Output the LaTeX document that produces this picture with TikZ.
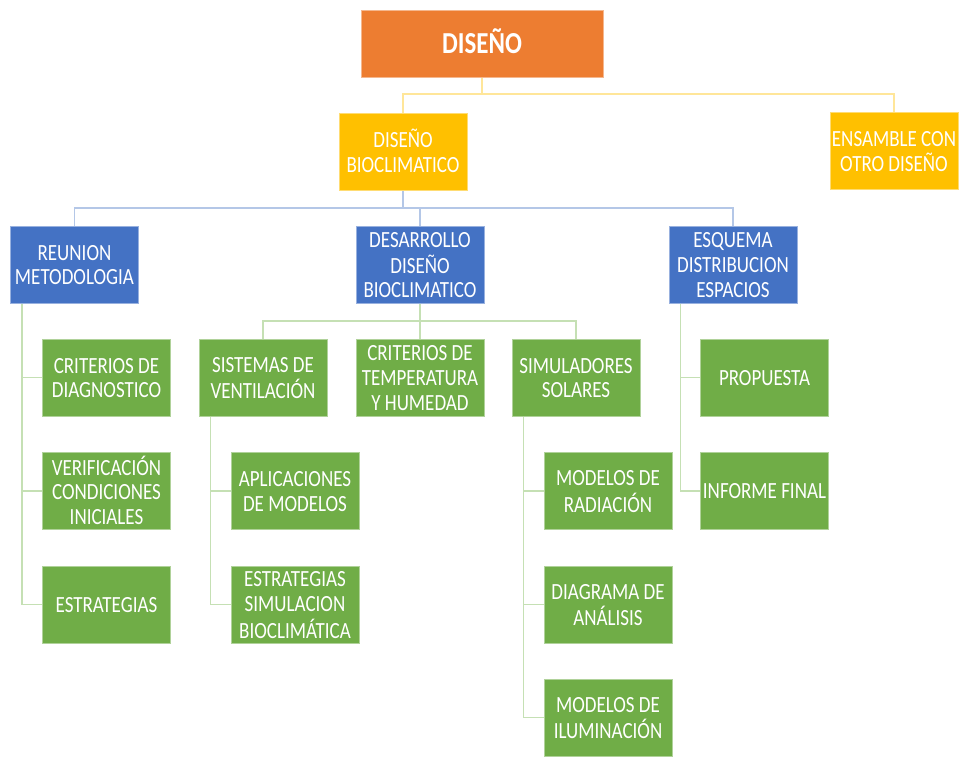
\documentclass[tikz,border=0pt]{standalone}
\usepackage{graphicx}
\usepackage{fontspec}
\setmainfont{Carlito}
\usetikzlibrary{backgrounds}
\definecolor{cOrange}{HTML}{ED7D31}
\definecolor{cGold}{HTML}{FFC000}
\definecolor{cBlue}{HTML}{4472C4}
\definecolor{cGreen}{HTML}{70AD47}
\definecolor{lGold}{HTML}{FFE699}
\definecolor{lBlue}{HTML}{B4C7E7}
\definecolor{lGreen}{HTML}{C5E0B4}
% box captions: centred lines, set in a slightly tall (condensed-looking) face,
% with the reported depth trimmed so the capitals sit optically centred
\newcommand\lbl[1]{\raisebox{0pt}[\height][\dimexpr\depth-6pt\relax]{%
  \scalebox{1}[1.22]{\renewcommand\arraystretch{1}%
  \begin{tabular}{@{}c@{}}#1\end{tabular}}}}
\tikzset{
  card/.style={rectangle, inner sep=0pt, minimum width=128pt, minimum height=77pt,
    text=white, align=center, font=\fontsize{19}{20.3}\selectfont, line width=0.8pt},
  topbox/.style={card, fill=cOrange, draw=cOrange!55!white, minimum width=242pt,
    minimum height=67pt, font=\fontsize{25}{28}\selectfont\bfseries},
  goldbox/.style={card, fill=cGold, draw=cGold!55!white},
  bluebox/.style={card, fill=cBlue, draw=cBlue!55!white},
  greenbox/.style={card, fill=cGreen, draw=cGreen!55!white},
  goldlink/.style={draw=lGold, line width=1.5pt},
  bluelink/.style={draw=lBlue, line width=1.5pt},
  greenlink/.style={draw=lGreen, line width=1.5pt},
}
\begin{document}
\begin{tikzpicture}[x=1pt, y=-1pt]
\useasboundingbox (0,0) rectangle (967,757);

% level 0 and 1
\node[topbox]  (diseno) at (482,43.5) {\lbl{DISEÑO}};
\node[goldbox] (bio)    at (403,151.5) {\lbl{DISEÑO\\BIOCLIMATICO}};
\node[goldbox] (ens)    at (894,151) {\lbl{ENSAMBLE CON\\OTRO DISEÑO}};

% level 2
\node[bluebox] (reu) at (74.5,264.5) {\lbl{REUNION\\METODOLOGIA}};
\node[bluebox] (des) at (420,264.5) {\lbl{DESARROLLO\\DISEÑO\\BIOCLIMATICO}};
\node[bluebox] (esq) at (733,264.5) {\lbl{ESQUEMA\\DISTRIBUCION\\ESPACIOS}};

% level 3
\node[greenbox] (crit)   at (106.5,377.5) {\lbl{CRITERIOS DE\\DIAGNOSTICO}};
\node[greenbox] (verif)  at (106.5,491)   {\lbl{VERIFICACIÓN\\CONDICIONES\\INICIALES}};
\node[greenbox] (estr)   at (106.5,604.5) {\lbl{ESTRATEGIAS}};
\node[greenbox] (sist)   at (263,377.5)   {\lbl{SISTEMAS DE\\VENTILACIÓN}};
\node[greenbox] (temp)   at (420,377.5)   {\lbl{CRITERIOS DE\\TEMPERATURA\\Y HUMEDAD}};
\node[greenbox] (simu)   at (576,377.5)   {\lbl{SIMULADORES\\SOLARES}};
\node[greenbox] (apli)   at (295,491)     {\lbl{APLICACIONES\\DE MODELOS}};
\node[greenbox] (estsim) at (295,604.5)   {\lbl{ESTRATEGIAS\\SIMULACION\\BIOCLIMÁTICA}};
\node[greenbox] (modrad) at (608,491)     {\lbl{MODELOS DE\\RADIACIÓN}};
\node[greenbox] (diag)   at (608,604.5)   {\lbl{DIAGRAMA DE\\ANÁLISIS}};
\node[greenbox] (ilum)   at (608,717.5)   {\lbl{MODELOS DE\\ILUMINACIÓN}};
\node[greenbox] (prop)   at (764.5,377.5) {\lbl{PROPUESTA}};
\node[greenbox] (inf)    at (764.5,491)   {\lbl{INFORME FINAL}};

% bus heights
\coordinate (bus0) at (0,94);
\coordinate (bus1) at (0,208);
\coordinate (bus2) at (0,321);

% connectors, drawn behind the boxes
\begin{scope}[on background layer]
\foreach \c in {bio,ens}
  \draw[goldlink] (diseno.south) -- (diseno.south |- bus0) -| (\c.north);
\foreach \c in {reu,des,esq}
  \draw[bluelink] (bio.south) -- (bio.south |- bus1) -| (\c.north);
\foreach \c in {sist,temp,simu}
  \draw[greenlink] (des.south) -- (des.south |- bus2) -| (\c.north);
\foreach \c in {crit,verif,estr}
  \draw[greenlink] ([xshift=12pt]reu.south west) |- (\c.west);
\foreach \c in {apli,estsim}
  \draw[greenlink] ([xshift=12pt]sist.south west) |- (\c.west);
\foreach \c in {modrad,diag,ilum}
  \draw[greenlink] ([xshift=12pt]simu.south west) |- (\c.west);
\foreach \c in {prop,inf}
  \draw[greenlink] ([xshift=12pt]esq.south west) |- (\c.west);
\end{scope}
\end{tikzpicture}
\end{document}
